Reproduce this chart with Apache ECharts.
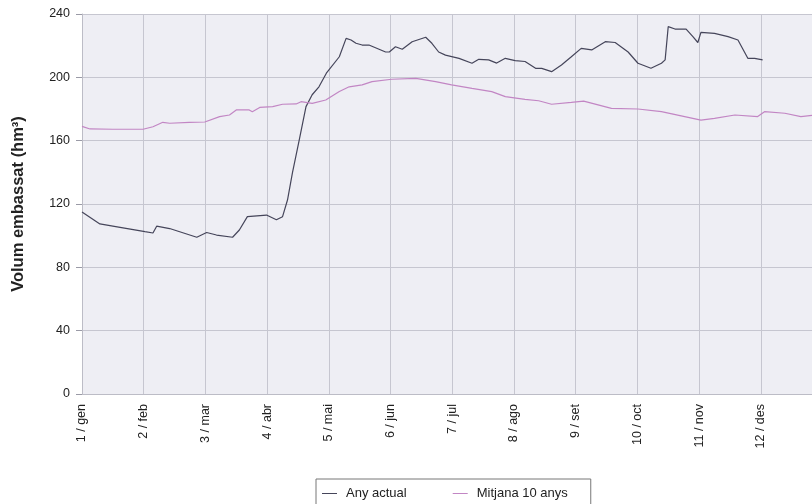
<!DOCTYPE html>
<html>
<head>
<meta charset="utf-8">
<script src="https://cdn.jsdelivr.net/npm/echarts@6/dist/echarts.min.js"></script>
<style>
html,body{margin:0;padding:0;background:#ffffff;}
#chart{width:812px;height:504px;}
</style>
</head>
<body>
<div id="chart"></div>
<script>
var monthLabels = ['1 / gen','2 / feb','3 / mar','4 / abr','5 / mai','6 / jun','7 / jul','8 / ago','9 / set','10 / oct','11 / nov','12 / des'];

var actualMonth = [0.00,0.29,0.57,1.02,1.15,1.21,1.42,1.86,2.02,2.18,2.44,2.55,2.68,2.99,3.15,3.25,3.33,3.41,3.52,3.63,3.73,3.84,3.96,4.17,4.28,4.36,4.44,4.54,4.65,4.92,4.98,5.08,5.19,5.35,5.57,5.67,5.78,5.89,6.11,6.32,6.43,6.59,6.72,6.86,7.02,7.18,7.35,7.45,7.61,7.77,7.93,8.09,8.26,8.48,8.64,8.85,9.01,9.22,9.39,9.45,9.50,9.61,9.79,9.90,9.98,10.03,10.25,10.47,10.63,10.79,10.90,11.03];
var actualVolume = [115,107.4,105.5,102.5,101.7,106,104.5,99,102,100.4,99,103.6,112,113,110,112,122.5,139.6,160.4,181.5,189,194,202.6,213,224.6,223.6,221.5,220.4,220.4,216,216,219.3,217.7,222.5,225.3,221.5,216,214,212,208.9,211.4,211,209,212,210.5,210,205.7,205.7,203.6,207.8,213,218.3,217.3,222.5,222,216,208.9,205.7,208.9,211,232,230.5,230.5,225.7,222,228.4,227.8,225.7,223.6,212,212,211];

var averageMonth = [0.00,0.13,0.50,0.99,1.15,1.31,1.42,1.74,1.99,2.23,2.39,2.50,2.71,2.76,2.88,3.09,3.25,3.47,3.55,3.73,3.95,4.17,4.33,4.54,4.70,5.02,5.41,5.73,5.99,6.32,6.64,6.86,7.18,7.40,7.61,7.93,8.13,8.58,9.01,9.39,10.03,10.25,10.58,10.95,11.06,11.39,11.65,11.83];
var averageVolume = [169,167.4,167.2,167.2,168.8,171.6,171,171.6,171.8,175.2,176.2,179.4,179.4,178.3,181,181.5,183,183.2,184.6,183.6,185.7,191,194,195.2,197.3,198.8,199.4,197.3,195.2,193,191,187.8,186.1,185.2,183,184.2,185,180.4,180,178.3,173,174.1,176.2,175.2,178.3,177.3,175.2,176];

function pairs(xs, ys){ var out=[]; for(var i=0;i<xs.length;i++){ out.push([xs[i], ys[i]]); } return out; }

var chart = echarts.init(document.getElementById('chart'), null, {renderer:'canvas'});
chart.setOption({
  animation:false,
  backgroundColor:'#ffffff',
  textStyle:{fontFamily:'Liberation Sans, Arial, sans-serif'},
  grid:{left:82, top:14, right:-2, bottom:110, show:true, backgroundColor:'#eeeef4', borderWidth:0},
  legend:{
    left:316, top:479,
    orient:'horizontal',
    icon:'rect', itemWidth:15, itemHeight:1,
    itemGap:46,
    padding:[8,23,10,6],
    borderColor:'#777777', borderWidth:1, borderRadius:0,
    textStyle:{fontSize:13, color:'#222222', padding:[0,0,0,4], fontFamily:'Liberation Sans, Arial, sans-serif'},
    data:['Any actual','Mitjana 10 anys']
  },
  xAxis:{
    type:'value', min:0, max:11.83, interval:1,
    axisLine:{show:true, lineStyle:{color:'#bcbcc6', width:1}},
    axisTick:{show:false},
    splitLine:{show:true, showMaxLine:false, lineStyle:{color:'#c6c6d0', width:1}},
    axisLabel:{
      rotate:90, margin:10, fontSize:12.5, color:'#222222',
      formatter:function(v){ var i=Math.round(v); return (Math.abs(v-i)<1e-6 && monthLabels[i]) ? monthLabels[i] : ''; }
    }
  },
  yAxis:{
    type:'value', min:0, max:240, interval:40,
    name:'Volum embassat (hm³)', nameLocation:'middle', nameGap:55,
    nameTextStyle:{fontSize:16.5, fontWeight:'bold', color:'#222222'},
    axisLine:{show:true, lineStyle:{color:'#bcbcc6', width:1}},
    axisTick:{show:true, length:6, lineStyle:{color:'#9a9aa6'}},
    splitLine:{show:true, lineStyle:{color:'#c6c6d0', width:1}},
    axisLabel:{margin:12, fontSize:12.5, color:'#222222'}
  },
  series:[
    {name:'Any actual', type:'line', symbol:'none', smooth:false,
     lineStyle:{color:'#45455a', width:1.2}, itemStyle:{color:'#45455a'},
     data:pairs(actualMonth, actualVolume)},
    {name:'Mitjana 10 anys', type:'line', symbol:'none', smooth:false,
     lineStyle:{color:'#c286c4', width:1.2}, itemStyle:{color:'#c286c4'},
     data:pairs(averageMonth, averageVolume)}
  ]
});
</script>
</body>
</html>
